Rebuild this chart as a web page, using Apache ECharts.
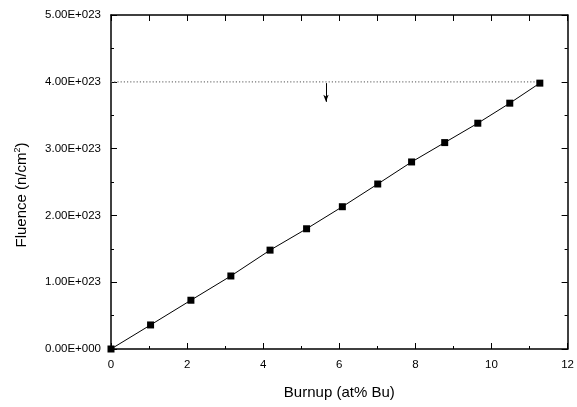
<!DOCTYPE html>
<html>
<head>
<meta charset="utf-8">
<script src="https://cdn.jsdelivr.net/npm/echarts@6/dist/echarts.min.js"></script>
<style>
html,body{margin:0;padding:0;background:#fff;}
#chart{width:577px;height:407px;}
</style>
</head>
<body>
<div id="chart"></div>
<script>
// Data
const burnup = [0, 1.04, 2.10, 3.15, 4.18, 5.14, 6.08, 7.01, 7.90, 8.77, 9.64, 10.48, 11.27];
const fluence = [0, 0.36e23, 0.73e23, 1.093e23, 1.48e23, 1.80e23, 2.13e23, 2.47e23, 2.80e23, 3.09e23, 3.38e23, 3.68e23, 3.98e23];
const limitFluence = 4.0e23;
const limitBurnup = [0, 11.27];
const arrowBurnup = 5.65;
const arrowFluence = [3.98e23, 3.70e23];
const xTitle = 'Burnup (at% Bu)';
const yTitleMain = 'Fluence (n/cm';
const yTitleSup = '2';

const FONT = 'Liberation Sans, Arial, sans-serif';
const chart = echarts.init(document.getElementById('chart'), null, {renderer: 'canvas'});

function fmtY(v) {
  if (v === 0) return '0.00E+000';
  return (v / 1e23).toFixed(2) + 'E+023';
}

const axisLine = {show: true, onZero: false, lineStyle: {color: '#000', width: 1.5}};

const option = {
  backgroundColor: '#fff',
  animation: false,
  grid: {left: 111, right: 9, top: 15, bottom: 58, containLabel: false},
  xAxis: [
    {
      type: 'value', position: 'bottom', min: 0, max: 12, interval: 2,
      name: xTitle, nameLocation: 'middle', nameGap: 36,
      nameTextStyle: {fontFamily: FONT, fontSize: 15, color: '#000'},
      axisLine: axisLine,
      axisTick: {show: true, inside: true, length: 6, lineStyle: {color: '#000', width: 1}},
      minorTick: {show: true, splitNumber: 2, length: 3, lineStyle: {color: '#000', width: 1}},
      axisLabel: {fontFamily: FONT, fontSize: 11.5, color: '#000', margin: 10},
      splitLine: {show: false}
    },
    {
      type: 'value', position: 'top', min: 0, max: 12, interval: 1,
      axisLine: axisLine,
      axisTick: {show: true, inside: true, length: 6, lineStyle: {color: '#000', width: 1}},
      axisLabel: {show: false},
      splitLine: {show: false}
    }
  ],
  yAxis: [
    {
      type: 'value', position: 'left', min: 0, max: 5e23, interval: 1e23,
      name: '{a|' + yTitleMain + '}{s|' + yTitleSup + '}{a|)}',
      nameLocation: 'middle', nameGap: 80, nameRotate: 90,
      nameTextStyle: {
        fontFamily: FONT, fontSize: 15, color: '#000', padding: [0, 26, 0, 0],
        rich: {
          a: {fontFamily: FONT, fontSize: 15, color: '#000'},
          s: {fontFamily: FONT, fontSize: 9, color: '#000', padding: [0, 0, 9, 0]}
        }
      },
      axisLine: axisLine,
      axisTick: {show: true, inside: true, length: 6, lineStyle: {color: '#000', width: 1}},
      minorTick: {show: true, splitNumber: 2, length: 3, lineStyle: {color: '#000', width: 1}},
      axisLabel: {fontFamily: FONT, fontSize: 11.5, color: '#000', margin: 10, formatter: fmtY},
      splitLine: {show: false}
    },
    {
      type: 'value', position: 'right', min: 0, max: 5e23, interval: 1e23,
      axisLine: axisLine,
      axisTick: {show: true, inside: true, length: 6, lineStyle: {color: '#000', width: 1}},
      minorTick: {show: true, splitNumber: 2, length: 3, lineStyle: {color: '#000', width: 1}},
      axisLabel: {show: false},
      splitLine: {show: false}
    }
  ],
  series: [
    {
      name: 'limit', type: 'line', xAxisIndex: 0, yAxisIndex: 0,
      data: limitBurnup.map(x => [x, limitFluence]),
      symbol: 'none', silent: true,
      lineStyle: {color: '#777', width: 1.2, type: [1.2, 2]},
      markLine: {
        silent: true, symbol: ['none', 'arrow'], symbolSize: [4, 7],
        label: {show: false},
        lineStyle: {color: '#000', width: 1, type: 'solid'},
        data: [[{coord: [arrowBurnup, arrowFluence[0]]}, {coord: [arrowBurnup, arrowFluence[1]]}]]
      },
      z: 2
    },
    {
      name: 'Fluence', type: 'line', xAxisIndex: 0, yAxisIndex: 0,
      data: burnup.map((x, i) => [x, fluence[i]]),
      symbol: 'rect', symbolSize: 7, showAllSymbol: true,
      itemStyle: {color: '#000'},
      lineStyle: {color: '#000', width: 1},
      clip: true, z: 3
    }
  ]
};
chart.setOption(option);
</script>
</body>
</html>
